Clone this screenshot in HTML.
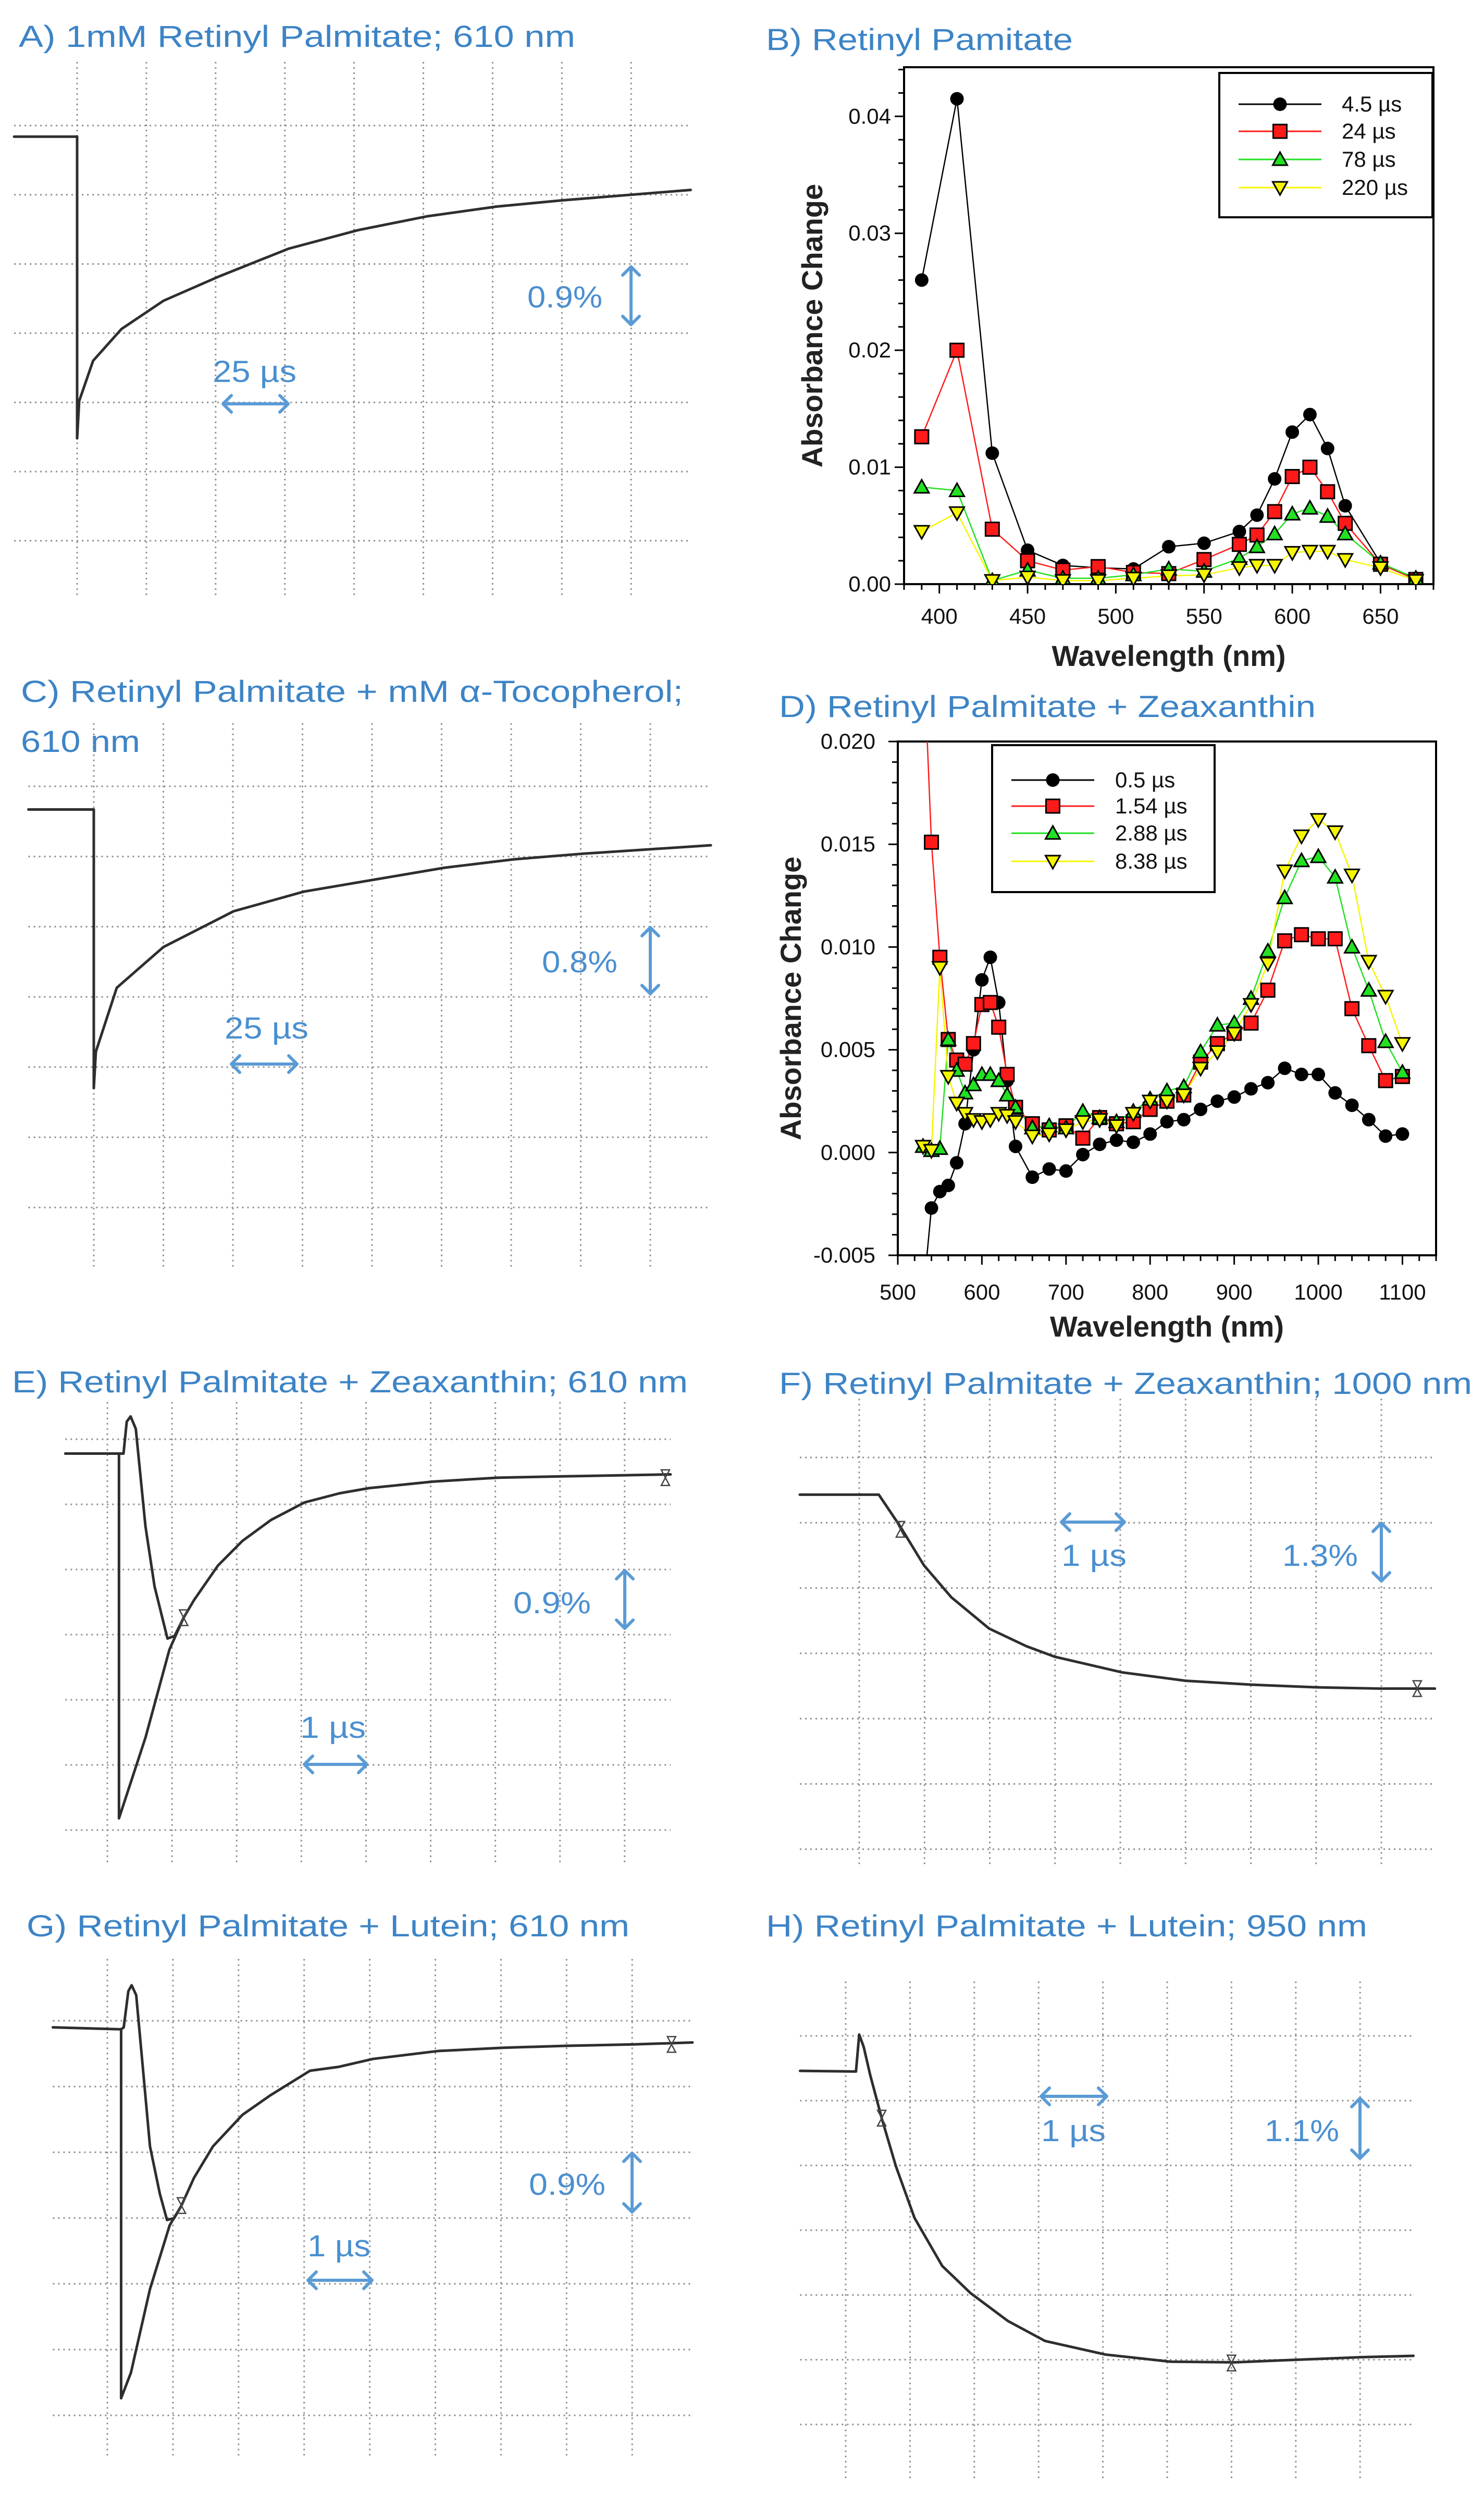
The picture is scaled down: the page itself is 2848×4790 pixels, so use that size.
<!DOCTYPE html>
<html><head><meta charset="utf-8"><style>
html,body{margin:0;padding:0;background:#fff;}
svg{display:block;}
.ttl{font-family:"Liberation Sans",sans-serif;font-size:58px;fill:#3d84c6;}
.ann{font-family:"Liberation Sans",sans-serif;font-size:58px;fill:#4a8fd0;}
.tick{font-family:"Liberation Sans",sans-serif;font-size:42px;fill:#111;}
.axt{font-family:"Liberation Sans",sans-serif;font-size:56px;font-weight:bold;fill:#222;}
.leg{font-family:"Liberation Sans",sans-serif;font-size:42px;fill:#111;}
</style></head><body>
<svg id="fig" xmlns="http://www.w3.org/2000/svg" width="2848" height="4790" viewBox="0 0 2848 4790">
<rect x="0" y="0" width="2848" height="4790" fill="#fff"/>
<text class="ttl" x="36" y="90" textLength="1068" lengthAdjust="spacingAndGlyphs">A) 1mM Retinyl Palmitate; 610 nm</text>
<text class="ttl" x="1470" y="96" textLength="589" lengthAdjust="spacingAndGlyphs">B) Retinyl Pamitate</text>
<text class="ttl" x="40" y="1347" textLength="1271" lengthAdjust="spacingAndGlyphs">C) Retinyl Palmitate + mM α-Tocopherol;</text>
<text class="ttl" x="40" y="1443" textLength="229" lengthAdjust="spacingAndGlyphs">610 nm</text>
<text class="ttl" x="1495" y="1376" textLength="1030" lengthAdjust="spacingAndGlyphs">D) Retinyl Palmitate + Zeaxanthin</text>
<text class="ttl" x="23" y="2672" textLength="1297" lengthAdjust="spacingAndGlyphs">E) Retinyl Palmitate + Zeaxanthin; 610 nm</text>
<text class="ttl" x="1495" y="2675" textLength="1330" lengthAdjust="spacingAndGlyphs">F) Retinyl Palmitate + Zeaxanthin; 1000 nm</text>
<text class="ttl" x="51" y="3716" textLength="1157" lengthAdjust="spacingAndGlyphs">G) Retinyl Palmitate + Lutein; 610 nm</text>
<text class="ttl" x="1470" y="3716" textLength="1154" lengthAdjust="spacingAndGlyphs">H) Retinyl Palmitate + Lutein; 950 nm</text>

<text class="ann" x="1012" y="590" textLength="144" lengthAdjust="spacingAndGlyphs">0.9%</text>
<text class="ann" x="408" y="733" textLength="161" lengthAdjust="spacingAndGlyphs">25 µs</text>
<text class="ann" x="1040" y="1866" textLength="145" lengthAdjust="spacingAndGlyphs">0.8%</text>
<text class="ann" x="431" y="1993" textLength="161" lengthAdjust="spacingAndGlyphs">25 µs</text>
<text class="ann" x="985" y="3096" textLength="149" lengthAdjust="spacingAndGlyphs">0.9%</text>
<text class="ann" x="576" y="3335" textLength="126" lengthAdjust="spacingAndGlyphs">1 µs</text>
<text class="ann" x="2037" y="3005" textLength="125" lengthAdjust="spacingAndGlyphs">1 µs</text>
<text class="ann" x="2461" y="3005" textLength="145" lengthAdjust="spacingAndGlyphs">1.3%</text>
<text class="ann" x="1015" y="4212" textLength="147" lengthAdjust="spacingAndGlyphs">0.9%</text>
<text class="ann" x="590" y="4330" textLength="121" lengthAdjust="spacingAndGlyphs">1 µs</text>
<text class="ann" x="1998" y="4109" textLength="124" lengthAdjust="spacingAndGlyphs">1 µs</text>
<text class="ann" x="2427" y="4109" textLength="143" lengthAdjust="spacingAndGlyphs">1.1%</text>
</svg>
<script>
// ===== Panel B data =====
const bWavelengths = [390,410,430,450,470,490,510,530,550,570,580,590,600,610,620,630,650,670];
const bSeries45 = [0.026,0.0415,0.0112,0.0029,0.0016,0.0014,0.0013,0.0032,0.0035,0.0045,0.0059,0.009,0.013,0.0145,0.0116,0.0067,0.0018,0.0005];
const bSeries24 = [0.0126,0.020,0.0047,0.0020,0.0012,0.0015,0.0010,0.0009,0.0021,0.0034,0.0042,0.0062,0.0092,0.010,0.0079,0.0052,0.0017,0.0004];
const bSeries78 = [0.0083,0.0080,0.0003,0.0012,0.0005,0.0005,0.0008,0.0013,0.0011,0.0022,0.0032,0.0043,0.0060,0.0065,0.0058,0.0043,0.0018,0.0005];
const bSeries220 = [0.0045,0.0061,0.0003,0.0006,0.0003,0.0003,0.0005,0.0007,0.0008,0.0014,0.0016,0.0016,0.0027,0.0028,0.0028,0.0021,0.0014,0.0003];
const bLegendLabels = ["4.5 µs","24 µs","78 µs","220 µs"];
const bXTicks = [400,450,500,550,600,650];
const bYTicks = [0,0.01,0.02,0.03,0.04];
const bYTickLabels = ["0.00","0.01","0.02","0.03","0.04"];
// ===== Panel D data =====
const dWavelengths = [530,540,550,560,570,580,590,600,610,620,630,640,660,680,700,720,740,760,780,800,820,840,860,880,900,920,940,960,980,1000,1020,1040,1060,1080,1100];
const dSeries05 = [-0.007,-0.0027,-0.0019,-0.0016,-0.0005,0.0014,0.005,0.0084,0.0095,0.0073,0.0035,0.0003,-0.0012,-0.0008,-0.0009,-0.0001,0.0004,0.0006,0.0005,0.0009,0.0015,0.0016,0.0021,0.0025,0.0027,0.0031,0.0034,0.0041,0.0038,0.0038,0.0029,0.0023,0.0016,0.0008,0.0009];
const dSeries154 = [0.025,0.0151,0.0095,0.0055,0.0045,0.0043,0.0053,0.0072,0.0073,0.0061,0.0038,0.0022,0.0014,0.0011,0.0013,0.0007,0.0017,0.0014,0.0015,0.0021,0.0025,0.0028,0.0044,0.0053,0.0058,0.0063,0.0079,0.0103,0.0106,0.0104,0.0104,0.0070,0.0052,0.0035,0.0037];
const dSeries288 = [0.0003,0.0001,0.0002,0.0055,0.0040,0.0029,0.0033,0.0038,0.0038,0.0035,0.0028,0.0022,0.0012,0.0013,0.0012,0.0020,0.0017,0.0015,0.0020,0.0026,0.0030,0.0032,0.0049,0.0062,0.0063,0.0075,0.0098,0.0124,0.0142,0.0144,0.0134,0.0100,0.0079,0.0054,0.0039];
const dSeries838 = [0.0003,0.0001,0.0090,0.0037,0.0024,0.0019,0.0016,0.0015,0.0016,0.0019,0.0018,0.0015,0.0008,0.0009,0.0011,0.0015,0.0016,0.0013,0.0019,0.0025,0.0025,0.0028,0.0041,0.0049,0.0058,0.0072,0.0092,0.0137,0.0154,0.0162,0.0156,0.0135,0.0093,0.0076,0.0053];
const dLegendLabels = ["0.5 µs","1.54 µs","2.88 µs","8.38 µs"];
const dXTicks = [500,600,700,800,900,1000,1100];
const dYTicks = [-0.005,0,0.005,0.01,0.015,0.02];
const dYTickLabels = ["-0.005","0.000","0.005","0.010","0.015","0.020"];
// ===== Oscilloscope traces (grid divisions: t right, v down from top grid line) =====
const traceA_t = [-0.91,0,0,0.03,0.23,0.64,1.25,2.05,3.05,4.06,5.06,6.06,7.01,8.86];
const traceA_v = [0.16,0.16,4.52,3.98,3.40,2.94,2.53,2.18,1.78,1.51,1.31,1.17,1.08,0.93];
const traceC_t = [-0.94,0,0,0.03,0.33,1.0,2.01,3.02,4.03,5.04,6.04,7.03,8.87];
const traceC_v = [0.33,0.33,4.30,3.78,2.87,2.29,1.78,1.50,1.33,1.16,1.04,0.96,0.84];
const traceE_t = [-0.65,0.18,0.25,0.30,0.36,0.44,0.59,0.73,0.93,1.04,1.18,1.34,1.71,2.09,2.53,3.05,3.59,4.05,5.04,6.05,7.03,8.71];
const traceE_v = [0.22,0.22,0.22,-0.27,-0.35,-0.16,1.34,2.26,3.06,3.02,2.74,2.47,1.94,1.56,1.24,0.97,0.83,0.75,0.65,0.59,0.57,0.54];
const traceE2_t = [0.18,0.18,0.59,0.96,1.18];
const traceE2_v = [0.22,5.82,4.58,3.23,2.74];
const traceF_t = [-0.91,0.30,0.63,0.99,1.41,1.99,2.56,2.99,4.02,5.0,6.01,6.99,8.0,8.82];
const traceF_v = [0.57,0.57,1.06,1.65,2.14,2.62,2.89,3.05,3.29,3.42,3.48,3.52,3.54,3.54];
const traceG_t = [-0.83,0.21,0.25,0.32,0.37,0.44,0.54,0.65,0.80,0.91,1.02,1.13,1.32,1.61,2.06,2.49,3.09,3.53,4.05,5.04,6.04,7.01,8.0,8.92];
const traceG_v = [0.10,0.13,0.10,-0.45,-0.54,-0.39,0.70,1.91,2.63,3.03,3.0,2.81,2.39,1.91,1.43,1.13,0.76,0.70,0.58,0.46,0.41,0.38,0.36,0.33];
const traceG2_t = [0.21,0.21,0.36,0.65,0.95,1.13];
const traceG2_v = [0.13,5.74,5.35,4.08,3.11,2.81];
const traceH_t = [-0.71,0.16,0.21,0.28,0.38,0.56,0.78,1.07,1.50,1.94,2.52,3.10,4.04,5.05,6.04,7.02,8.04,8.83];
const traceH_v = [0.54,0.55,-0.02,0.17,0.60,1.27,2.01,2.81,3.55,3.97,4.40,4.71,4.92,5.03,5.04,5.0,4.96,4.94];

const NS = "http://www.w3.org/2000/svg";
const svg = document.getElementById('fig');
function mk(tag, attrs, parent){
  const e = document.createElementNS(NS, tag);
  for (const k in attrs) e.setAttribute(k, attrs[k]);
  (parent || svg).appendChild(e);
  return e;
}

// ---------- oscilloscope panels ----------
function scope(name, g, tArr, vArr, extras, markers){
  const grp = mk('g', {});
  
  
  const X = t => g.x0 + t*g.dx, Y = v => g.y0 + v*g.dy;
  for (let i = 0; i <= 8; i++){
    const l = mk('line', {x1:X(i), x2:X(i), y1:Y(g.vMin), y2:Y(g.vMax), stroke:'#8e8e8e', 'stroke-width':3, 'stroke-dasharray':'3 7'}, grp);
    
    
  }
  for (let j = 0; j <= 6; j++){
    const l = mk('line', {x1:X(g.tMin), x2:X(g.tMax), y1:Y(j), y2:Y(j), stroke:'#8e8e8e', 'stroke-width':3, 'stroke-dasharray':'3 7'}, grp);
    
    
  }
  const draw = (ta, va, nm) => {
    const p = mk('polyline', {points: ta.map((t,i)=>X(t)+','+Y(va[i])).join(' '), fill:'none', stroke:'#2e2e2e', 'stroke-width':5, 'stroke-linejoin':'round', 'stroke-linecap':'round'}, grp);
    
    
  };
  draw(tArr, vArr, name + '-trace');
  if (extras) draw(extras[0], extras[1], name + '-trace-fast');
  (markers||[]).forEach(m => {
    const x = X(m[0]), y = Y(m[1]);
    const h = mk('path', {d:`M${x-8},${y-15} L${x+8},${y-15} L${x},${y} Z M${x-8},${y+15} L${x+8},${y+15} L${x},${y} Z`, fill:'none', stroke:'#444', 'stroke-width':2.5}, grp);
    
    
  });
}
scope('panel-a', {x0:148,dx:132.9,y0:241,dy:132.8,tMin:-0.91,tMax:8.86,vMin:-0.92,vMax:6.81}, traceA_t, traceA_v);
scope('panel-c', {x0:180,dx:133.5,y0:1509,dy:134.7,tMin:-0.94,tMax:8.87,vMin:-0.9,vMax:6.87}, traceC_t, traceC_v);
scope('panel-e', {x0:206,dx:124.1,y0:2762,dy:125,tMin:-0.65,tMax:8.71,vMin:-0.57,vMax:6.51}, traceE_t, traceE_v, [traceE2_t, traceE2_v], [[1.18,2.74],[8.63,0.59]]);
scope('panel-f', {x0:1649,dx:125.25,y0:2797,dy:125.3,tMin:-0.91,tMax:8.82,vMin:-0.9,vMax:6.25}, traceF_t, traceF_v, null, [[0.63,1.1],[8.55,3.54]]);
scope('panel-g', {x0:206,dx:125.9,y0:3878,dy:126.2,tMin:-0.83,tMax:8.92,vMin:-0.94,vMax:6.65}, traceG_t, traceG_v, [traceG2_t, traceG2_v], [[1.13,2.81],[8.6,0.36]]);
scope('panel-h', {x0:1623,dx:123.4,y0:3907,dy:124.3,tMin:-0.71,tMax:8.83,vMin:-0.84,vMax:6.83}, traceH_t, traceH_v, null, [[0.56,1.27],[6.0,5.05]]);

// ---------- scale arrows ----------
function arrow(name, x1, y1, x2, y2){
  const horiz = y1 === y2, a = 16, c = '#5b9bd5';
  let d = `M${x1},${y1} L${x2},${y2} `;
  if (horiz) d += `M${x1+a},${y1-a} L${x1},${y1} L${x1+a},${y1+a} M${x2-a},${y2-a} L${x2},${y2} L${x2-a},${y2+a}`;
  else d += `M${x1-a},${y1+a} L${x1},${y1} L${x1+a},${y1+a} M${x2-a},${y2-a} L${x2},${y2} L${x2+a},${y2-a}`;
  const p = mk('path', {d, fill:'none', stroke:c, 'stroke-width':6, 'stroke-linecap':'round', 'stroke-linejoin':'round'});
  
  
}
arrow('panel-a-scale-arrow', 1211, 512, 1211, 623);
arrow('panel-a-time-arrow', 428, 775, 553, 775);
arrow('panel-c-scale-arrow', 1248, 1780, 1248, 1907);
arrow('panel-c-time-arrow', 444, 2042, 570, 2042);
arrow('panel-e-scale-arrow', 1199, 3014, 1199, 3125);
arrow('panel-e-time-arrow', 584, 3386, 704, 3386);
arrow('panel-f-time-arrow', 2037, 2921, 2158, 2921);
arrow('panel-f-scale-arrow', 2651, 2923, 2651, 3034);
arrow('panel-g-scale-arrow', 1213, 4132, 1213, 4245);
arrow('panel-g-time-arrow', 591, 4376, 714, 4376);
arrow('panel-h-time-arrow', 1998, 4023, 2124, 4023);
arrow('panel-h-scale-arrow', 2610, 4027, 2610, 4142);

// ---------- spectra ----------
const colors = ['#000000','#ff1a1a','#22e022','#f5f500'];
function marker(kind, x, y, fill, parent, nm){
  let e;
  if (kind === 0) e = mk('circle', {cx:x, cy:y, r:13, fill:'#000'}, parent);
  else if (kind === 1) e = mk('rect', {x:x-13, y:y-13, width:26, height:26, fill:fill, stroke:'#000', 'stroke-width':3}, parent);
  else if (kind === 2) e = mk('path', {d:`M${x},${y-14} L${x+14},${y+11} L${x-14},${y+11} Z`, fill:fill, stroke:'#000', 'stroke-width':3}, parent);
  else e = mk('path', {d:`M${x},${y+14} L${x+14},${y-11} L${x-14},${y-11} Z`, fill:fill, stroke:'#000', 'stroke-width':3}, parent);
  
  
}
function spectrum(cfg){
  const {name, L, R, T, B, xMin, xMax, yMin, yMax, xs, series, xTicks, xMinor, yTicks, yTickLabels, yMinor, legend, legendLabels, yTitleX, xLabelY, xTitleY, yLabelRight} = cfg;
  const X = v => L + (v - xMin)/(xMax - xMin)*(R - L);
  const Y = v => B - (v - yMin)/(yMax - yMin)*(B - T);
  const grp = mk('g', {});
  
  
  const clipId = name + '-clip';
  const cp = mk('clipPath', {id: clipId}, grp);
  mk('rect', {x:L, y:T, width:R-L, height:B-T}, cp);
  const frame = mk('rect', {x:L, y:T, width:R-L, height:B-T, fill:'none', stroke:'#000', 'stroke-width':4}, grp);
  
  
  for (let v = xMin; v <= xMax + 1e-9; v += xMinor){
    const major = xTicks.some(t => Math.abs(t - v) < 1e-6);
    const tk = mk('line', {x1:X(v), x2:X(v), y1:B, y2:B + (major?18:11), stroke:'#000', 'stroke-width':3}, grp);
    
    
  }
  xTicks.forEach(v => {
    const t = mk('text', {x:X(v), y:xLabelY, 'text-anchor':'middle', class:'tick'}, grp);
    t.textContent = String(v);
    
    
  });
  for (let v = yMin; v <= yMax + 1e-9; v += yMinor){
    const major = yTicks.some(t => Math.abs(t - v) < 1e-9);
    const tk = mk('line', {x1:L - (major?18:11), x2:L, y1:Y(v), y2:Y(v), stroke:'#000', 'stroke-width':3}, grp);
    
    
  }
  yTicks.forEach((v, i) => {
    const t = mk('text', {x:yLabelRight, y:Y(v) + 14, 'text-anchor':'end', class:'tick'}, grp);
    t.textContent = yTickLabels[i];
    
    
  });
  const xt = mk('text', {x:(L+R)/2, y:xTitleY, 'text-anchor':'middle', class:'axt'}, grp);
  xt.textContent = 'Wavelength (nm)';
  
  
  const yt = mk('text', {x:yTitleX, y:(T+B)/2, 'text-anchor':'middle', class:'axt', transform:`rotate(-90 ${yTitleX} ${(T+B)/2})`}, grp);
  yt.textContent = 'Absorbance Change';
  
  
  const plot = mk('g', {'clip-path':`url(#${clipId})`}, grp);
  series.forEach((s, k) => {
    const pl = mk('polyline', {points: xs.map((x,i)=>X(x)+','+Y(s[i])).join(' '), fill:'none', stroke:colors[k], 'stroke-width':2.5}, plot);
    
    
  });
  series.forEach((s, k) => {
    xs.forEach((x, i) => marker(k, X(x), Y(s[i]), colors[k], plot, name + '-point'));
  });
  const lg = mk('g', {}, grp);
  
  
  const lb = mk('rect', {x:legend.x, y:legend.y, width:legend.w, height:legend.h, fill:'#fff', stroke:'#000', 'stroke-width':4}, lg);
  
  
  legendLabels.forEach((lab, k) => {
    const y = legend.rows[k];
    const ln = mk('line', {x1:legend.l1, x2:legend.l2, y1:y, y2:y, stroke:colors[k], 'stroke-width':3}, lg);
    
    
    marker(k, (legend.l1+legend.l2)/2, y, colors[k], lg, name + '-legend-marker');
    const t = mk('text', {x:legend.tx, y:y + 14, class:'leg'}, lg);
    t.textContent = lab;
    
    
  });
}
spectrum({name:'panel-b', L:1735, R:2751, T:129, B:1121, xMin:380, xMax:680, yMin:0, yMax:0.0442,
  xs:bWavelengths, series:[bSeries45,bSeries24,bSeries78,bSeries220],
  xTicks:bXTicks, xMinor:10, yTicks:bYTicks, yTickLabels:bYTickLabels, yMinor:0.002,
  legend:{x:2340, y:140, w:409, h:277, rows:[200,252,306,360], l1:2377, l2:2536, tx:2575},
  legendLabels:bLegendLabels, yTitleX:1578, xLabelY:1197, xTitleY:1278, yLabelRight:1710});
spectrum({name:'panel-d', L:1723, R:2756, T:1423, B:2409, xMin:500, xMax:1140, yMin:-0.005, yMax:0.020,
  xs:dWavelengths, series:[dSeries05,dSeries154,dSeries288,dSeries838],
  xTicks:dXTicks, xMinor:20, yTicks:dYTicks, yTickLabels:dYTickLabels, yMinor:0.001,
  legend:{x:1904, y:1430, w:427, h:282, rows:[1497,1547,1599,1653], l1:1941, l2:2100, tx:2140},
  legendLabels:dLegendLabels, yTitleX:1537, xLabelY:2494, xTitleY:2565, yLabelRight:1680});
</script>
</body></html>
